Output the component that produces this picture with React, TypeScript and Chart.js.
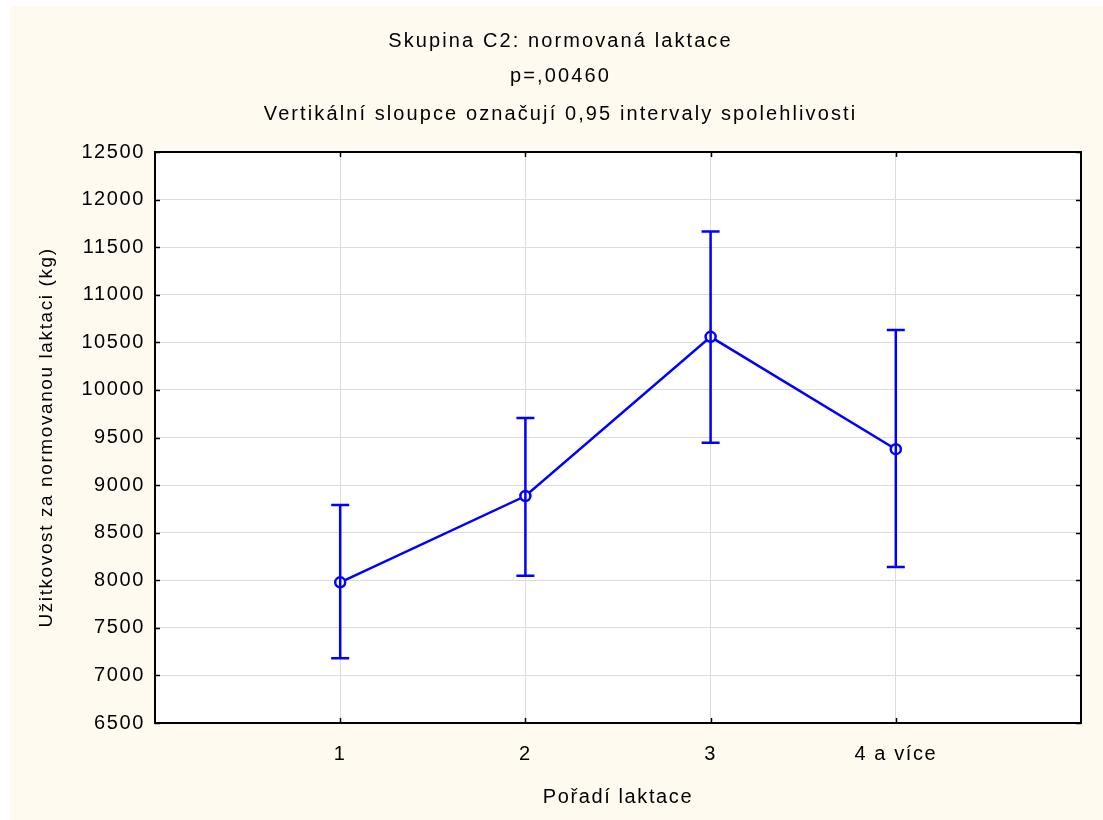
import { useEffect, useRef } from "react";
import { Chart, registerables } from "chart.js";

Chart.register(...registerables);

// Lactation order on the x axis and the group means with 0.95 confidence limits
const categories = ["1", "2", "3", "4 a více"];
const positions = [1, 2, 3, 4];
const means = [7978, 8885, 10558, 9377];
const lower = [7180, 8048, 9445, 8140];
const upper = [8791, 9705, 11665, 10630];

const yMin = 6500;
const yMax = 12500;
const yStep = 500;

const titleLines = [
  "Skupina C2: normovaná laktace",
  "p=,00460",
  "Vertikální sloupce označují 0,95 intervaly spolehlivosti",
];
const xTitle = "Pořadí laktace";
const yTitle = "Užitkovost za normovanou laktaci (kg)";

const FONT = '"Liberation Sans", Arial, sans-serif';
const BLUE = "#0000ff";
const SPACING = "1.6px";

const framePlugin = {
  id: "frame",
  beforeDraw(chart: any) {
    const { ctx, chartArea } = chart;
    (ctx as any).letterSpacing = SPACING;
    ctx.save();
    ctx.fillStyle = "#ffffff";
    ctx.fillRect(chartArea.left, chartArea.top, chartArea.right - chartArea.left, chartArea.bottom - chartArea.top);
    ctx.restore();
    // headings above the plot
    ctx.save();
    (ctx as any).letterSpacing = "2.1px";
    ctx.fillStyle = "#000";
    ctx.font = `20px ${FONT}`;
    ctx.textAlign = "center";
    ctx.textBaseline = "middle";
    const cx = chart.width / 2 + 4;
    const ys = [35, 70, 108];
    titleLines.forEach((t, i) => ctx.fillText(t, cx, ys[i]));
    ctx.restore();
  },
  afterDatasetsDraw(chart: any) {
    const { ctx } = chart;
    const xs = chart.scales.x;
    const ys = chart.scales.y;
    ctx.save();
    ctx.strokeStyle = BLUE;
    ctx.lineWidth = 2.5;
    const cap = 9;
    positions.forEach((p, i) => {
      const x = xs.getPixelForValue(p);
      const yl = ys.getPixelForValue(lower[i]);
      const yu = ys.getPixelForValue(upper[i]);
      ctx.beginPath();
      ctx.moveTo(x, yu);
      ctx.lineTo(x, yl);
      ctx.moveTo(x - cap, yu);
      ctx.lineTo(x + cap, yu);
      ctx.moveTo(x - cap, yl);
      ctx.lineTo(x + cap, yl);
      ctx.stroke();
    });
    ctx.restore();
  },
  afterDraw(chart: any) {
    const { ctx, chartArea } = chart;
    const { left, right, top, bottom } = chartArea;
    const xs = chart.scales.x;
    const ys = chart.scales.y;
    ctx.save();
    ctx.strokeStyle = "#000";
    ctx.lineWidth = 1.5;
    const tick = 5;
    ctx.beginPath();
    for (let v = yMin; v <= yMax; v += yStep) {
      const y = Math.round(ys.getPixelForValue(v)) + 0.5;
      ctx.moveTo(left, y);
      ctx.lineTo(left + tick, y);
      ctx.moveTo(right, y);
      ctx.lineTo(right - tick, y);
    }
    positions.forEach((p) => {
      const x = Math.round(xs.getPixelForValue(p)) + 0.5;
      ctx.moveTo(x, bottom);
      ctx.lineTo(x, bottom - tick);
      ctx.moveTo(x, top);
      ctx.lineTo(x, top + tick);
    });
    ctx.stroke();
    ctx.lineWidth = 2;
    ctx.strokeRect(left, top, right - left, bottom - top);
    ctx.restore();
  },
};

export default function App() {
  const canvasRef = useRef<HTMLCanvasElement | null>(null);

  useEffect(() => {
    const canvas = canvasRef.current;
    if (!canvas) return;
    const chart = new Chart(canvas, {
      type: "line",
      data: {
        datasets: [
          {
            data: positions.map((p, i) => ({ x: p, y: means[i] })),
            borderColor: BLUE,
            borderWidth: 2.5,
            pointRadius: 5,
            pointBorderWidth: 2.5,
            pointBorderColor: BLUE,
            pointBackgroundColor: "#ffffff",
            tension: 0,
            fill: false,
          },
        ],
      },
      options: {
        responsive: false,
        animation: false,
        devicePixelRatio: 1,
        layout: { padding: { top: 146, right: 22, left: 0, bottom: 0 } },
        plugins: {
          legend: { display: false },
          title: { display: false },
          tooltip: { enabled: false },
        },
        scales: {
          x: {
            type: "linear",
            min: 0,
            max: 5,
            afterFit: (s: any) => {
              s.height = 97;
            },
            afterBuildTicks: (s: any) => {
              s.ticks = positions.map((p) => ({ value: p }));
            },
            ticks: {
              color: "#000",
              font: { family: FONT, size: 20 },
              padding: 19,
              maxRotation: 0,
              autoSkip: false,
              callback: (v: any) => {
                const idx = positions.indexOf(Number(v));
                return idx >= 0 ? categories[idx] : "";
              },
            },
            grid: { color: "#dcdcdc", lineWidth: 1, drawTicks: false },
            border: { display: false },
            title: {
              display: true,
              text: xTitle,
              color: "#000",
              font: { family: FONT, size: 20 },
              padding: { top: 11, bottom: 11 },
            },
          },
          y: {
            min: yMin,
            max: yMax,
            afterFit: (s: any) => {
              s.width = 145;
            },
            ticks: {
              stepSize: yStep,
              color: "#000",
              font: { family: FONT, size: 20 },
              padding: 10,
              callback: (v: any) => String(v),
            },
            grid: { color: "#dcdcdc", lineWidth: 1, drawTicks: false },
            border: { display: false },
            title: {
              display: true,
              text: yTitle,
              color: "#000",
              font: { family: FONT, size: 19 },
              padding: { top: 25, bottom: 0 },
            },
          },
        },
      },
      plugins: [framePlugin],
    });
    return () => chart.destroy();
  }, []);

  return (
    <div
      style={{
        position: "absolute",
        left: 10,
        top: 6,
        width: 1093,
        height: 814,
        background: "#fffaf0",
      }}
    >
      <canvas ref={canvasRef} width={1093} height={814} style={{ display: "block" }} />
    </div>
  );
}
